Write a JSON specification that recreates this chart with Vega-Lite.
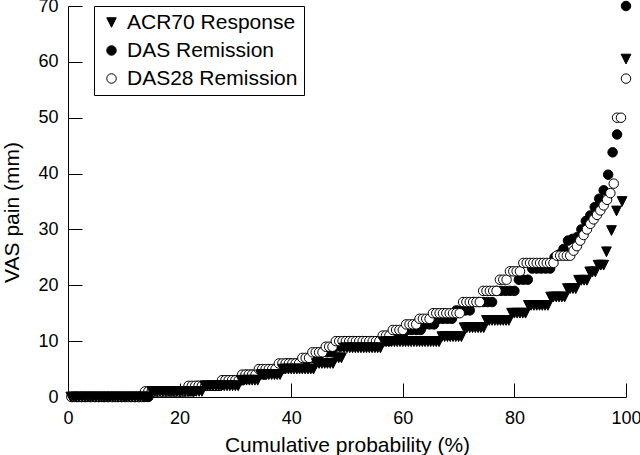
{
"$schema":"https://vega.github.io/schema/vega-lite/v6.json",
"width":558,"height":391,
"autosize":"none",
"padding":{"left":68,"top":6,"right":14,"bottom":58},
"background":"white",
"config":{
 "view":{"stroke":null},
 "font":"Liberation Sans",
 "axis":{"domainColor":"black","domainWidth":1,"tickColor":"black","tickWidth":1,"tickSize":-14,"grid":false,"labelColor":"black","labelFontSize":18,"labelFont":"Liberation Sans","titleColor":"black","titleFont":"Liberation Sans","titleFontSize":21,"titleFontWeight":"normal","labelFlush":false,"labelOverlap":false},
 "legend":{"orient":"none","legendX":26,"legendY":0,"strokeColor":"black","strokeWidth":1,"padding":6,"rowPadding":6,"labelFontSize":21,"labelFont":"Liberation Sans","labelColor":"black","symbolSize":90,"symbolStrokeWidth":1,"symbolOffset":1,"labelOffset":5,"labelLimit":0,"fillColor":"white"}
},
"encoding":{
 "x":{"field":"x","type":"quantitative","scale":{"domain":[0,100],"nice":false,"zero":false},"axis":{"title":"Cumulative probability (%)","values":[0,20,40,60,80,100],"labelPadding":26,"titleY":54.7,"titleBaseline":"alphabetic"}},
 "y":{"field":"y","type":"quantitative","scale":{"domain":[0,70],"nice":false},"axis":{"title":"VAS pain (mm)","values":[0,10,20,30,40,50,60,70],"labelPadding":24,"titleX":-49.5,"titleY":206,"titleBaseline":"alphabetic"}}
},
"layer":[
{"data":{"values":[
{"x":0.8,"y":0},{"x":1.6,"y":0},{"x":2.4,"y":0},{"x":3.2,"y":0},{"x":4,"y":0},{"x":4.8,"y":0},{"x":5.6,"y":0},{"x":6.4,"y":0},{"x":7.2,"y":0},{"x":8,"y":0},{"x":8.8,"y":0},{"x":9.6,"y":0},{"x":10.4,"y":0},{"x":11.2,"y":0},{"x":12,"y":0},{"x":12.8,"y":0},{"x":13.6,"y":0},{"x":14.4,"y":0},
{"x":15.2,"y":1},{"x":16,"y":1},{"x":16.8,"y":1},{"x":17.6,"y":1},{"x":18.4,"y":1},{"x":19.2,"y":1},{"x":20,"y":1},{"x":20.8,"y":1},{"x":21.6,"y":1},{"x":22.4,"y":1},
{"x":23.2,"y":2},{"x":24,"y":2},{"x":24.8,"y":2},{"x":25.6,"y":2},{"x":26.4,"y":2},{"x":27.2,"y":2},
{"x":28,"y":3},{"x":28.8,"y":3},{"x":29.6,"y":3},{"x":30.4,"y":3},{"x":31.2,"y":3},
{"x":32,"y":4},{"x":32.8,"y":4},{"x":33.6,"y":4},{"x":34.4,"y":4},{"x":35.2,"y":4},
{"x":36,"y":5},{"x":36.8,"y":5},{"x":37.6,"y":5},{"x":38.4,"y":5},
{"x":39.2,"y":6},{"x":40,"y":6},{"x":40.8,"y":6},{"x":41.6,"y":6},{"x":42.4,"y":6},
{"x":43.2,"y":7},{"x":44,"y":7},{"x":44.8,"y":7},
{"x":45.6,"y":8},{"x":46.4,"y":8},{"x":47.2,"y":8},
{"x":48,"y":9},{"x":48.8,"y":9},
{"x":49.6,"y":10},{"x":50.4,"y":10},{"x":51.2,"y":10},{"x":52,"y":10},{"x":52.8,"y":10},{"x":53.6,"y":10},{"x":54.4,"y":10},{"x":55.2,"y":10},{"x":56,"y":10},{"x":56.8,"y":10},{"x":57.6,"y":10},
{"x":58.4,"y":11},{"x":59.2,"y":11},{"x":60,"y":11},
{"x":60.8,"y":12},{"x":61.6,"y":12},{"x":62.4,"y":12},{"x":63.2,"y":12},
{"x":64,"y":13},{"x":64.8,"y":13},{"x":65.6,"y":13},
{"x":66.4,"y":14},{"x":67.2,"y":14},{"x":68,"y":14},{"x":68.8,"y":14},
{"x":69.6,"y":15.5},{"x":70.4,"y":15.5},{"x":71.2,"y":15.5},{"x":72,"y":15.5},
{"x":72.8,"y":17},{"x":73.6,"y":17},{"x":74.4,"y":17},{"x":75.2,"y":17},{"x":76,"y":17},
{"x":76.8,"y":19},{"x":77.6,"y":19},{"x":78.4,"y":19},{"x":79.2,"y":19},{"x":80,"y":19},
{"x":80.8,"y":21},{"x":81.6,"y":21},{"x":82.4,"y":21},
{"x":83.2,"y":23},{"x":84,"y":23},{"x":84.8,"y":23},{"x":85.6,"y":23},{"x":86.4,"y":23},
{"x":87.2,"y":25},{"x":88,"y":25.5},
{"x":88.8,"y":26.5},{"x":89.6,"y":28},{"x":90.4,"y":28.3},{"x":91.2,"y":28.6},
{"x":92,"y":30},{"x":92.8,"y":31.5},{"x":93.6,"y":32.5},{"x":94.4,"y":34},{"x":95.2,"y":35.5},{"x":96,"y":37},{"x":96.8,"y":39.8},{"x":97.6,"y":43.8},{"x":98.4,"y":47},{"x":100,"y":70}
]},
"mark":{"type":"point","filled":true,"strokeWidth":1,"opacity":1,"size":90},
"encoding":{
 "fill":{"datum":"DAS Remission","type":"nominal","scale":{"domain":["ACR70 Response","DAS Remission","DAS28 Remission"],"range":["black","black","white"]},"legend":{"title":null}},
 "stroke":{"datum":"DAS Remission","type":"nominal","scale":{"domain":["ACR70 Response","DAS Remission","DAS28 Remission"],"range":["black","black","black"]},"legend":{"title":null}},
 "shape":{"datum":"DAS Remission","type":"nominal","scale":{"domain":["ACR70 Response","DAS Remission","DAS28 Remission"],"range":["M-1,-1L1,-1L0,1Z","circle","circle"]},"legend":{"title":null}}
}},
{"data":{"values":[
{"x":0.6,"y":0},{"x":1.2,"y":0},{"x":1.8,"y":0},{"x":2.4,"y":0},{"x":3,"y":0},{"x":3.6,"y":0},{"x":4.2,"y":0},{"x":4.8,"y":0},{"x":5.4,"y":0},{"x":6,"y":0},{"x":6.6,"y":0},{"x":7.2,"y":0},{"x":7.8,"y":0},{"x":8.4,"y":0},{"x":9,"y":0},{"x":9.6,"y":0},{"x":10.2,"y":0},{"x":10.8,"y":0},{"x":11.4,"y":0},{"x":12,"y":0},{"x":12.6,"y":0},{"x":13.2,"y":0},
{"x":13.8,"y":1},{"x":14.4,"y":1},{"x":15,"y":1},{"x":15.6,"y":1},{"x":16.2,"y":1},{"x":16.8,"y":1},{"x":17.4,"y":1},{"x":18,"y":1},{"x":18.6,"y":1},{"x":19.2,"y":1},{"x":19.8,"y":1},{"x":20.4,"y":1},{"x":21,"y":1},
{"x":21.6,"y":2},{"x":22.2,"y":2},{"x":22.8,"y":2},{"x":23.4,"y":2},{"x":24,"y":2},{"x":24.6,"y":2},{"x":25.2,"y":2},{"x":25.8,"y":2},{"x":26.4,"y":2},{"x":27,"y":2},
{"x":27.6,"y":3},{"x":28.2,"y":3},{"x":28.8,"y":3},{"x":29.4,"y":3},{"x":30,"y":3},{"x":30.6,"y":3},
{"x":31.2,"y":4},{"x":31.8,"y":4},{"x":32.4,"y":4},{"x":33,"y":4},{"x":33.6,"y":4},
{"x":34.2,"y":5},{"x":34.8,"y":5},{"x":35.4,"y":5},{"x":36,"y":5},{"x":36.6,"y":5},{"x":37.2,"y":5},
{"x":37.8,"y":6},{"x":38.4,"y":6},{"x":39,"y":6},{"x":39.6,"y":6},{"x":40.2,"y":6},{"x":40.8,"y":6},{"x":41.4,"y":6},
{"x":42,"y":7},{"x":42.6,"y":7},{"x":43.2,"y":7},
{"x":43.8,"y":8},{"x":44.4,"y":8},{"x":45,"y":8},{"x":45.6,"y":8},
{"x":46.2,"y":9},{"x":46.8,"y":9},{"x":47.4,"y":9},
{"x":48,"y":10},{"x":48.6,"y":10},{"x":49.2,"y":10},{"x":49.8,"y":10},{"x":50.4,"y":10},{"x":51,"y":10},{"x":51.6,"y":10},{"x":52.2,"y":10},{"x":52.8,"y":10},{"x":53.4,"y":10},{"x":54,"y":10},{"x":54.6,"y":10},{"x":55.2,"y":10},{"x":55.8,"y":10},
{"x":56.4,"y":11},{"x":57,"y":11},{"x":57.6,"y":11},
{"x":58.2,"y":12},{"x":58.8,"y":12},{"x":59.4,"y":12},{"x":60,"y":12},
{"x":60.6,"y":13},{"x":61.2,"y":13},{"x":61.8,"y":13},{"x":62.4,"y":13},
{"x":63,"y":14},{"x":63.6,"y":14},{"x":64.2,"y":14},{"x":64.8,"y":14},
{"x":65.4,"y":15},{"x":66,"y":15},{"x":66.6,"y":15},{"x":67.2,"y":15},{"x":67.8,"y":15},{"x":68.4,"y":15},{"x":69,"y":15},{"x":69.6,"y":15},{"x":70.2,"y":15},
{"x":70.8,"y":17},{"x":71.4,"y":17},{"x":72,"y":17},{"x":72.6,"y":17},{"x":73.2,"y":17},{"x":73.8,"y":17},
{"x":74.4,"y":19},{"x":75,"y":19},{"x":75.6,"y":19},{"x":76.2,"y":19},{"x":76.8,"y":19},
{"x":77.4,"y":21},{"x":78,"y":21},{"x":78.6,"y":21},
{"x":79.2,"y":22.5},{"x":79.8,"y":22.5},{"x":80.4,"y":22.5},{"x":81,"y":22.5},
{"x":81.6,"y":24},{"x":82.2,"y":24},{"x":82.8,"y":24},{"x":83.4,"y":24},{"x":84,"y":24},{"x":84.6,"y":24},{"x":85.2,"y":24},{"x":85.8,"y":24},{"x":86.4,"y":24},{"x":87,"y":24},
{"x":87.6,"y":25.3},{"x":88.2,"y":25.3},{"x":88.8,"y":25.3},{"x":89.4,"y":25.3},{"x":90,"y":25.3},
{"x":90.6,"y":26.2},
{"x":91.2,"y":27},{"x":91.8,"y":28},{"x":92.4,"y":29},{"x":93,"y":30},{"x":93.6,"y":31},{"x":94.2,"y":31.8},{"x":94.8,"y":32.6},{"x":95.4,"y":33.4},{"x":96,"y":34.3},{"x":96.6,"y":35.3},{"x":97.2,"y":36.5},{"x":97.8,"y":38.2},{"x":98.4,"y":50},{"x":99.1,"y":50},{"x":100,"y":57}
]},
"mark":{"type":"point","filled":true,"strokeWidth":1,"opacity":1,"size":90},
"encoding":{
 "fill":{"datum":"DAS28 Remission","type":"nominal","scale":{"domain":["ACR70 Response","DAS Remission","DAS28 Remission"],"range":["black","black","white"]},"legend":{"title":null}},
 "stroke":{"datum":"DAS28 Remission","type":"nominal","scale":{"domain":["ACR70 Response","DAS Remission","DAS28 Remission"],"range":["black","black","black"]},"legend":{"title":null}},
 "shape":{"datum":"DAS28 Remission","type":"nominal","scale":{"domain":["ACR70 Response","DAS Remission","DAS28 Remission"],"range":["M-1,-1L1,-1L0,1Z","circle","circle"]},"legend":{"title":null}}
}},
{"data":{"values":[
{"x":0.5,"y":0},{"x":1,"y":0},{"x":1.5,"y":0},{"x":2,"y":0},{"x":2.5,"y":0},{"x":3,"y":0},{"x":3.5,"y":0},{"x":4,"y":0},{"x":4.5,"y":0},{"x":5,"y":0},{"x":5.5,"y":0},{"x":6,"y":0},{"x":6.5,"y":0},{"x":7,"y":0},{"x":7.5,"y":0},{"x":8,"y":0},{"x":8.5,"y":0},{"x":9,"y":0},{"x":9.5,"y":0},{"x":10,"y":0},{"x":10.5,"y":0},{"x":11,"y":0},{"x":11.5,"y":0},{"x":12,"y":0},{"x":12.5,"y":0},{"x":13,"y":0},{"x":13.5,"y":0},{"x":14,"y":0},{"x":14.5,"y":0},
{"x":15,"y":1},{"x":15.5,"y":1},{"x":16,"y":1},{"x":16.5,"y":1},{"x":17,"y":1},{"x":17.5,"y":1},{"x":18,"y":1},{"x":18.5,"y":1},{"x":19,"y":1},{"x":19.5,"y":1},{"x":20,"y":1},{"x":20.5,"y":1},{"x":21,"y":1},{"x":21.5,"y":1},{"x":22,"y":1},{"x":22.5,"y":1},{"x":23,"y":1},{"x":23.5,"y":1},{"x":24,"y":1},
{"x":24.5,"y":2},{"x":25,"y":2},{"x":25.5,"y":2},{"x":26,"y":2},{"x":26.5,"y":2},{"x":27,"y":2},{"x":27.5,"y":2},{"x":28,"y":2},{"x":28.5,"y":2},{"x":29,"y":2},{"x":29.5,"y":2},{"x":30,"y":2},{"x":30.5,"y":2},
{"x":31,"y":3},{"x":31.5,"y":3},{"x":32,"y":3},{"x":32.5,"y":3},{"x":33,"y":3},{"x":33.5,"y":3},{"x":34,"y":3},
{"x":34.5,"y":4},{"x":35,"y":4},{"x":35.5,"y":4},{"x":36,"y":4},{"x":36.5,"y":4},{"x":37,"y":4},{"x":37.5,"y":4},{"x":38,"y":4},
{"x":38.5,"y":5},{"x":39,"y":5},{"x":39.5,"y":5},{"x":40,"y":5},{"x":40.5,"y":5},{"x":41,"y":5},{"x":41.5,"y":5},{"x":42,"y":5},{"x":42.5,"y":5},{"x":43,"y":5},{"x":43.5,"y":5},{"x":44,"y":5},
{"x":44.5,"y":6},{"x":45,"y":6},{"x":45.5,"y":6},{"x":46,"y":6},{"x":46.5,"y":6},{"x":47,"y":6},{"x":47.5,"y":6},
{"x":48,"y":7},{"x":48.5,"y":7},{"x":49,"y":7},
{"x":49.5,"y":8.8},{"x":50,"y":8.8},{"x":50.5,"y":8.8},{"x":51,"y":8.8},{"x":51.5,"y":8.8},{"x":52,"y":8.8},{"x":52.5,"y":8.8},{"x":53,"y":8.8},{"x":53.5,"y":8.8},{"x":54,"y":8.8},{"x":54.5,"y":8.8},{"x":55,"y":8.8},{"x":55.5,"y":8.8},{"x":56,"y":8.8},
{"x":56.5,"y":9.9},{"x":57,"y":9.9},{"x":57.5,"y":9.9},{"x":58,"y":9.9},{"x":58.5,"y":9.9},{"x":59,"y":9.9},{"x":59.5,"y":9.9},{"x":60,"y":9.9},{"x":60.5,"y":9.9},{"x":61,"y":9.9},{"x":61.5,"y":9.9},{"x":62,"y":9.9},{"x":62.5,"y":9.9},{"x":63,"y":9.9},{"x":63.5,"y":9.9},{"x":64,"y":9.9},{"x":64.5,"y":9.9},{"x":65,"y":9.9},{"x":65.5,"y":9.9},{"x":66,"y":9.9},{"x":66.5,"y":9.9},
{"x":67,"y":10.8},{"x":67.5,"y":10.8},{"x":68,"y":10.8},{"x":68.5,"y":10.8},{"x":69,"y":10.8},{"x":69.5,"y":10.8},{"x":70,"y":10.8},{"x":70.5,"y":10.8},
{"x":71,"y":12.4},{"x":71.5,"y":12.4},{"x":72,"y":12.4},{"x":72.5,"y":12.4},{"x":73,"y":12.4},{"x":73.5,"y":12.4},{"x":74,"y":12.4},{"x":74.5,"y":12.4},
{"x":75,"y":13.7},{"x":75.5,"y":13.7},{"x":76,"y":13.7},{"x":76.5,"y":13.7},{"x":77,"y":13.7},{"x":77.5,"y":13.7},{"x":78,"y":13.7},{"x":78.5,"y":13.7},{"x":79,"y":13.7},
{"x":79.5,"y":15},{"x":80,"y":15},{"x":80.5,"y":15},{"x":81,"y":15},{"x":81.5,"y":15},{"x":82,"y":15},
{"x":82.5,"y":16.4},{"x":83,"y":16.4},{"x":83.5,"y":16.4},{"x":84,"y":16.4},{"x":84.5,"y":16.4},{"x":85,"y":16.4},{"x":85.5,"y":16.4},{"x":86,"y":16.4},
{"x":86.5,"y":17.9},{"x":87,"y":17.9},{"x":87.5,"y":17.9},{"x":88,"y":17.9},{"x":88.5,"y":17.9},{"x":89,"y":17.9},
{"x":89.5,"y":19.4},{"x":90,"y":19.4},{"x":90.5,"y":19.4},{"x":91,"y":19.4},
{"x":91.5,"y":20.9},{"x":92,"y":20.9},{"x":92.5,"y":20.9},{"x":93,"y":20.9},
{"x":93.5,"y":22.4},{"x":94,"y":22.4},{"x":94.5,"y":22.4},
{"x":95,"y":23.6},{"x":95.5,"y":23.6},{"x":96,"y":23.6},
{"x":96.5,"y":26},{"x":97.4,"y":29.8},{"x":98.3,"y":33.3},{"x":99.3,"y":35},{"x":100,"y":60.5}
]},
"mark":{"type":"point","filled":true,"strokeWidth":1,"opacity":1,"size":95},
"encoding":{
 "fill":{"datum":"ACR70 Response","type":"nominal","scale":{"domain":["ACR70 Response","DAS Remission","DAS28 Remission"],"range":["black","black","white"]},"legend":{"title":null}},
 "stroke":{"datum":"ACR70 Response","type":"nominal","scale":{"domain":["ACR70 Response","DAS Remission","DAS28 Remission"],"range":["black","black","black"]},"legend":{"title":null}},
 "shape":{"datum":"ACR70 Response","type":"nominal","scale":{"domain":["ACR70 Response","DAS Remission","DAS28 Remission"],"range":["M-1,-1L1,-1L0,1Z","circle","circle"]},"legend":{"title":null}}
}}
]
}
